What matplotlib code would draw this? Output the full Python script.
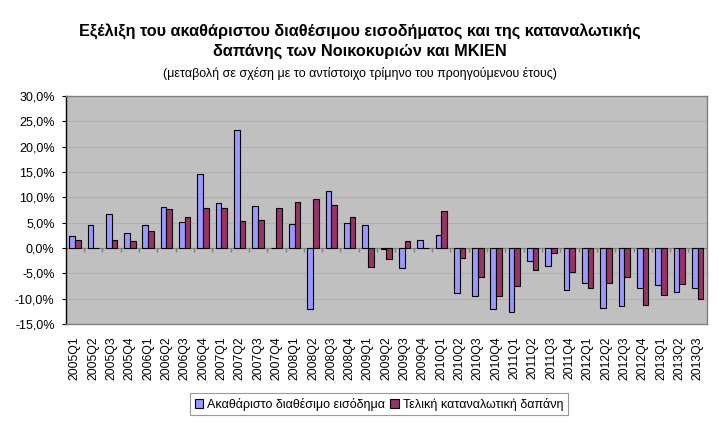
import numpy as np
import matplotlib.pyplot as plt
from matplotlib.ticker import FuncFormatter

plt.rcParams['font.family'] = ['Liberation Sans', 'DejaVu Sans']

# ==============================
# DATA
# ==============================

quarters = [
    "2005Q1", "2005Q2", "2005Q3", "2005Q4",
    "2006Q1", "2006Q2", "2006Q3", "2006Q4",
    "2007Q1", "2007Q2", "2007Q3", "2007Q4",
    "2008Q1", "2008Q2", "2008Q3", "2008Q4",
    "2009Q1", "2009Q2", "2009Q3", "2009Q4",
    "2010Q1", "2010Q2", "2010Q3", "2010Q4",
    "2011Q1", "2011Q2", "2011Q3", "2011Q4",
    "2012Q1", "2012Q2", "2012Q3", "2012Q4",
    "2013Q1", "2013Q2", "2013Q3",
]

income = [
    2.3, 4.5, 6.7, 3.0,
    4.5, 8.0, 5.1, 14.7,
    8.9, 23.4, 8.2, -0.1,
    4.7, -12.1, 11.2, 4.9,
    4.5, -0.3, -3.9, 1.6,
    2.6, -8.9, -9.5, -12.1,
    -12.7, -2.6, -3.6, -8.4,
    -7.0, -11.8, -11.4, -7.9,
    -7.3, -8.7, -7.9,
]

consumption = [
    1.6, 0.0, 1.6, 1.4,
    3.4, 7.7, 6.1, 7.8,
    7.8, 5.3, 5.5, 7.9,
    9.1, 9.7, 8.5, 6.1,
    -3.7, -2.1, 1.4, -0.1,
    7.3, -1.9, -5.7, -9.5,
    -7.6, -4.4, -1.05, -4.8,
    -8.0, -7.0, -5.7, -11.25,
    -9.3, -7.1, -10.1,
]

series_names = ["Ακαθάριστο διαθέσιμο εισόδημα", "Τελική καταναλωτική δαπάνη"]

title_text = ("Εξέλιξη του ακαθάριστου διαθέσιμου εισοδήματος και της καταναλωτικής\n"
              "δαπάνης των Νοικοκυριών και ΜΚΙΕΝ")
subtitle_text = "(μεταβολή σε σχέση με το αντίστοιχο τρίμηνο του προηγούμενου έτους)"

# ==============================
# PLOT
# ==============================

fig = plt.figure(figsize=(7.19, 4.37), dpi=100)
ax = fig.add_axes([0.0914, 0.259, 0.8916, 0.521])
ax.set_facecolor("#C0C0C0")

x = np.arange(len(quarters))
w = 0.31

ax.bar(x - w / 2, income, width=w, color="#9999FF", edgecolor="black",
       linewidth=0.8, label=series_names[0], zorder=3)
ax.bar(x + w / 2, consumption, width=w, color="#993366", edgecolor="black",
       linewidth=0.8, label=series_names[1], zorder=3)

ax.set_xlim(-0.5, len(quarters) - 0.5)
ax.set_ylim(-15, 30)
ax.set_yticks(np.arange(-15, 31, 5))
ax.yaxis.set_major_formatter(FuncFormatter(lambda v, p: f"{v:.1f}%".replace(".", ",")))
ax.grid(axis="y", color="#B0B0B0", linewidth=0.8, zorder=0)

# category axis sits at zero with small ticks between groups
ax.axhline(0, color="#808080", linewidth=0.8, zorder=2)
bounds = np.arange(len(quarters) + 1) - 0.5
ax.plot(bounds, np.zeros_like(bounds), linestyle="none", marker=3,
        markersize=3, color="#808080", zorder=2)

ax.set_xticks(x)
ax.set_xticklabels(quarters, rotation=90, fontsize=8.8)
ax.tick_params(axis="x", length=0, pad=9)
ax.tick_params(axis="y", labelsize=9, length=3, color="black", pad=5)

for s in ax.spines.values():
    s.set_color("#808080")
    s.set_linewidth(1)
ax.spines["left"].set_color("black")

fig.text(0.5, 0.906, title_text, ha="center", va="center",
         fontsize=11.7, fontweight="bold", linespacing=1.3)
fig.text(0.5, 0.831, subtitle_text, ha="center", va="center", fontsize=9)

leg = fig.legend(loc="center", bbox_to_anchor=(0.527, 0.075), ncol=2,
                 fontsize=9, frameon=True, fancybox=False, handlelength=0.7,
                 handleheight=0.7, handletextpad=0.3, columnspacing=0.4,
                 borderpad=0.35, borderaxespad=0)
leg.get_frame().set_edgecolor("#808080")
leg.get_frame().set_linewidth(0.8)

fig.savefig("out.png", dpi=100, facecolor="white")
